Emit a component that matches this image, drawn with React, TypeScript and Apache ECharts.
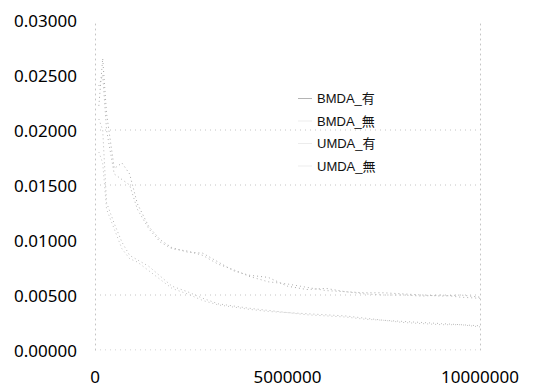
import React, { useEffect, useRef } from "react";
import * as echarts from "echarts";

const seriesNames = ["BMDA_有", "BMDA_無", "UMDA_有", "UMDA_無"];

const xValues = [
  100000, 200000, 300000, 500000, 700000, 900000, 1100000, 1400000, 1700000,
  2000000, 2400000, 2800000, 3200000, 3600000, 4000000, 4500000, 5000000,
  5500000, 6000000, 6500000, 7000000, 7500000, 8000000, 8500000, 9000000,
  9500000, 10000000,
];

const bmdaYes = [
  0.0222, 0.0265, 0.0215, 0.0165, 0.017, 0.016, 0.0133, 0.0112, 0.01, 0.0093,
  0.0089, 0.0088, 0.008, 0.0072, 0.0068, 0.0066, 0.0058, 0.0055, 0.0056,
  0.0053, 0.0052, 0.0052, 0.0051, 0.005, 0.0049, 0.005, 0.0048,
];
const bmdaNo = [
  0.021, 0.02, 0.0134, 0.0115, 0.0098, 0.0086, 0.0082, 0.0076, 0.0067, 0.0058,
  0.0053, 0.0047, 0.0042, 0.004, 0.0038, 0.0036, 0.0034, 0.0033, 0.0032,
  0.0031, 0.0029, 0.0027, 0.0026, 0.0025, 0.0024, 0.0023, 0.0022,
];
const umdaYes = [
  0.024, 0.025, 0.02, 0.016, 0.0155, 0.015, 0.0128, 0.011, 0.0098, 0.0092,
  0.009, 0.0086, 0.0078, 0.0073, 0.0067, 0.0062, 0.006, 0.0057, 0.0054,
  0.0053, 0.0051, 0.005, 0.005, 0.0049, 0.005, 0.0048, 0.0047,
];
const umdaNo = [
  0.018, 0.017, 0.0128, 0.011, 0.0092, 0.0083, 0.008, 0.0072, 0.0064, 0.0056,
  0.0051, 0.0045, 0.0041, 0.0039, 0.0037, 0.0035, 0.0034, 0.0032, 0.0031,
  0.003, 0.0028, 0.0027, 0.0025, 0.0024, 0.0023, 0.0023, 0.0021,
];

// horizontal dotted reference lines visible in the chart
const gridValues = [0, 0.005, 0.015, 0.02];

const seriesValues = [bmdaYes, bmdaNo, umdaYes, umdaNo];
const seriesColors = ["#a8a8a8", "#b8b8b8", "#b0b0b0", "#c0c0c0"];

export default function App() {
  const ref = useRef<HTMLDivElement>(null);

  useEffect(() => {
    if (!ref.current) return;
    const chart = echarts.init(ref.current, undefined, { renderer: "svg" });
    const labelFont = "'Noto Sans', 'Open Sans', sans-serif";

    const series: any[] = seriesNames.map((name, i) => ({
      name,
      type: "line",
      showSymbol: false,
      symbol: "none",
      data: xValues.map((x, j) => [x, seriesValues[i][j]]),
      lineStyle: { color: seriesColors[i], width: 1, type: [1, 3] },
      itemStyle: { color: seriesColors[i] },
      z: 3,
    }));

    gridValues.forEach((v) => {
      series.push({
        name: "grid-" + v,
        type: "line",
        showSymbol: false,
        symbol: "none",
        silent: true,
        data: [
          [0, v],
          [10000000, v],
        ],
        lineStyle: { color: "#c4c4c4", width: 1, type: [1, 4] },
        z: 1,
      });
    });

    chart.setOption({
      animation: false,
      backgroundColor: "#ffffff",
      grid: { left: 95, right: 73, top: 20, bottom: 40 },
      legend: {
        orient: "vertical",
        left: 293,
        top: 87,
        itemWidth: 14,
        itemHeight: 14,
        itemGap: 9.5,
        icon: "path://M0,6 L14,6 L14,7 L0,7 Z",
        data: seriesNames.map((n, i) => ({
          name: n,
          itemStyle: { color: i === 0 ? "#b4b4b4" : "#ececec" },
        })),
        textStyle: {
          fontSize: 13,
          color: "#111",
          fontFamily: "'Liberation Sans', 'Noto Sans CJK JP', sans-serif",
        },
      },
      xAxis: {
        type: "value",
        min: 0,
        max: 10000000,
        interval: 5000000,
        axisLine: { show: false },
        axisTick: { show: false },
        splitLine: { show: false },
        axisLabel: {
          fontSize: 17,
          color: "#000",
          fontFamily: labelFont,
          margin: 18,
          showMaxLabel: true,
          formatter: (v: number) => String(v),
        },
      },
      yAxis: [
        {
          type: "value",
          min: 0,
          max: 0.03,
          interval: 0.005,
          axisLine: {
            show: true,
            lineStyle: { color: "#c4c4c4", type: [1, 4], width: 1 },
          },
          axisTick: { show: false },
          splitLine: { show: false },
          axisLabel: {
            fontSize: 17,
            color: "#000",
            fontFamily: labelFont,
            margin: 18,
            formatter: (v: number) => v.toFixed(5),
          },
        },
        {
          type: "value",
          position: "right",
          min: 0,
          max: 0.03,
          interval: 0.005,
          axisLine: {
            show: true,
            lineStyle: { color: "#c4c4c4", type: [1, 4], width: 1 },
          },
          axisTick: { show: false },
          splitLine: { show: false },
          axisLabel: { show: false },
        },
      ],
      series,
    });

    return () => chart.dispose();
  }, []);

  return (
    <div
      ref={ref}
      style={{ position: "fixed", left: 0, top: 0, width: 553, height: 390 }}
    />
  );
}
